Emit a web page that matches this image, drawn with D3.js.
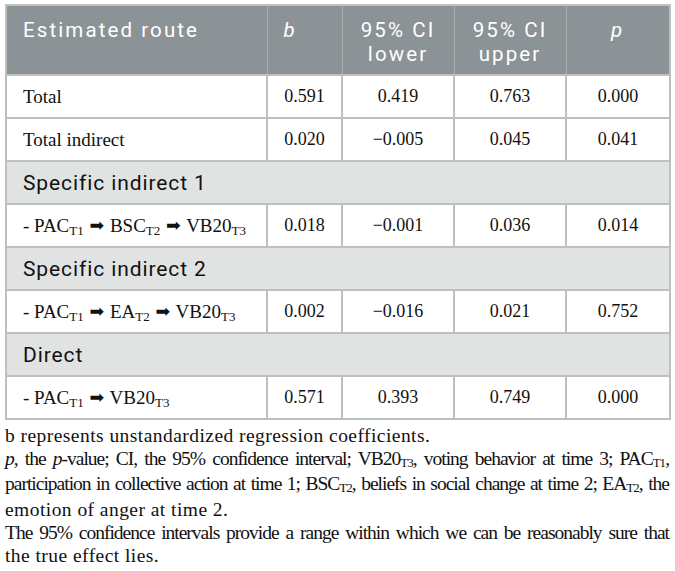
<!DOCTYPE html>
<html lang="en">
<head>
<meta charset="UTF-8">
<title>Estimated routes</title>
<script src="https://cdnjs.cloudflare.com/ajax/libs/d3/7.8.5/d3.min.js"></script>
<style>
    body {
        margin: 0;
        background: #fff;
        width: 675px;
        height: 571px;
        overflow: hidden;
    }
    #table-wrap {
        position: absolute;
        left: 5px;
        top: 4px;
    }
    table {
        border-collapse: collapse;
        table-layout: fixed;
        width: 664px;
    }
    th {
        background: #8c9396;
        color: #fff;
        font-family: Roboto, sans-serif;
        font-weight: 400;
        font-size: 20.5px;
        letter-spacing: 2.1px;
        line-height: 24px;
        vertical-align: top;
        padding: 12px 0 0 0;
        height: 56px;
        border: 2px solid #bcc1c0;
        border-left: 1px solid #a9afb0;
        border-right: 1px solid #a9afb0;
    }
    th.left { text-align: left; padding-left: 16px; }
    th.center { text-align: center; }
    th:first-child { border-left: 2px solid #bcc1c0; }
    th:last-child { border-right: 2px solid #bcc1c0; }
    td {
        font-family: "Liberation Serif", serif;
        font-size: 18px;
        color: #111;
        height: 41px;
        padding: 0;
        border: 2px solid #bcc1c0;
        text-align: center;
        vertical-align: middle;
    }
    td.label { text-align: left; padding-left: 16px; font-size: 19px; }
    td.section {
        background: #e1e3e3;
        font-family: Roboto, sans-serif;
        font-size: 21px;
        letter-spacing: 0.9px;
        text-align: left;
        padding-left: 16px;
        color: #111;
    }
    sub { font-size: 13px; vertical-align: baseline; position: relative; top: 3px; }
    .arrow { font-family: "DejaVu Sans", sans-serif; font-size: 17.5px; margin: 0 1px; position: relative; top: -1px; }
    #notes {
        position: absolute;
        left: 5px;
        top: 424px;
        width: 664px;
        font-family: "Liberation Serif", serif;
        font-size: 19.5px;
        line-height: 23.2px;
        color: #111;
    }
    #notes div { white-space: nowrap; letter-spacing: 0.45px; }
    #notes div.just { text-align: justify; text-align-last: justify; }
    #notes sub { font-size: 13px; top: 2px; }
</style>
</head>
<body>
<div id="table-wrap"></div>
<div id="notes"></div>
<script>
    // Table content
    const columns = ["Estimated route", "<i>b</i>", "95% CI<br>lower", "95% CI<br>upper", "<i>p</i>"];
    const routes = [
        "Total",
        "Total indirect",
        "Specific indirect 1",
        "- PAC_T1 > BSC_T2 > VB20_T3",
        "Specific indirect 2",
        "- PAC_T1 > EA_T2 > VB20_T3",
        "Direct",
        "- PAC_T1 > VB20_T3"
    ];
    const isSection = [false, false, true, false, true, false, true, false];
    const bValues = [0.591, 0.020, null, 0.018, null, 0.002, null, 0.571];
    const ciLower = [0.419, -0.005, null, -0.001, null, -0.016, null, 0.393];
    const ciUpper = [0.763, 0.045, null, 0.036, null, 0.021, null, 0.749];
    const pValues = [0.000, 0.041, null, 0.014, null, 0.752, null, 0.000];

    // Footnote lines, "just" = justified line
    const noteLines = [
        { text: "b represents unstandardized regression coefficients.", just: false },
        { text: "<i>p</i>, the <i>p</i>-value; CI, the 95% confidence interval; VB20_T3, voting behavior at time 3; PAC_T1,", just: true },
        { text: "participation in collective action at time 1; BSC_T2, beliefs in social change at time 2; EA_T2, the", just: true },
        { text: "emotion of anger at time 2.", just: false },
        { text: "The 95% confidence intervals provide a range within which we can be reasonably sure that", just: true },
        { text: "the true effect lies.", just: false }
    ];

    const fmt = d3.format(".3f");   // v7 gives a real minus sign

    // turn "PAC_T1" into subscripts and ">" into the arrow glyph
    function markup(s) {
        return s
            .replace(/([A-Z0-9]+)_(T\d)/g, "$1<sub>$2</sub>")
            .replace(/ > /g, ' <span class="arrow">\u27A1\uFE0E</span> ');
    }

    const table = d3.select("#table-wrap").append("table");

    table.append("colgroup").selectAll("col")
        .data([261, 75, 112, 112, 104])
        .join("col")
        .style("width", d => d + "px");

    table.append("thead").append("tr")
        .selectAll("th")
        .data(columns)
        .join("th")
        .attr("class", (d, i) => i < 2 ? "left" : "center")
        .html(d => d);

    const rows = table.append("tbody")
        .selectAll("tr")
        .data(routes.map((r, i) => ({
            route: r,
            section: isSection[i],
            vals: [bValues[i], ciLower[i], ciUpper[i], pValues[i]]
        })))
        .join("tr");

    rows.each(function(d) {
        const tr = d3.select(this);
        if (d.section) {
            tr.append("td")
                .attr("colspan", 5)
                .attr("class", "section")
                .text(d.route);
        } else {
            tr.append("td")
                .attr("class", "label")
                .html(markup(d.route));
            tr.selectAll("td.num")
                .data(d.vals)
                .join("td")
                .attr("class", "num")
                .text(v => fmt(v));
        }
    });

    const notes = d3.select("#notes")
        .selectAll("div")
        .data(noteLines)
        .join("div")
        .attr("class", d => d.just ? "just" : null)
        .html(d => markup(d.text));

    // justified lines: only tighten letter spacing if the line would not fit
    notes.filter(d => d.just).each(function() {
        let ls = 0.45;
        const probe = document.createElement("span");
        probe.innerHTML = this.innerHTML;
        probe.style.whiteSpace = "nowrap";
        this.innerHTML = "";
        this.appendChild(probe);
        while (ls > -1) {
            probe.style.letterSpacing = ls + "px";
            if (probe.getBoundingClientRect().width <= 660) break;
            ls -= 0.05;
        }
        this.innerHTML = probe.innerHTML;
        this.style.letterSpacing = ls + "px";
    });
</script>
</body>
</html>
